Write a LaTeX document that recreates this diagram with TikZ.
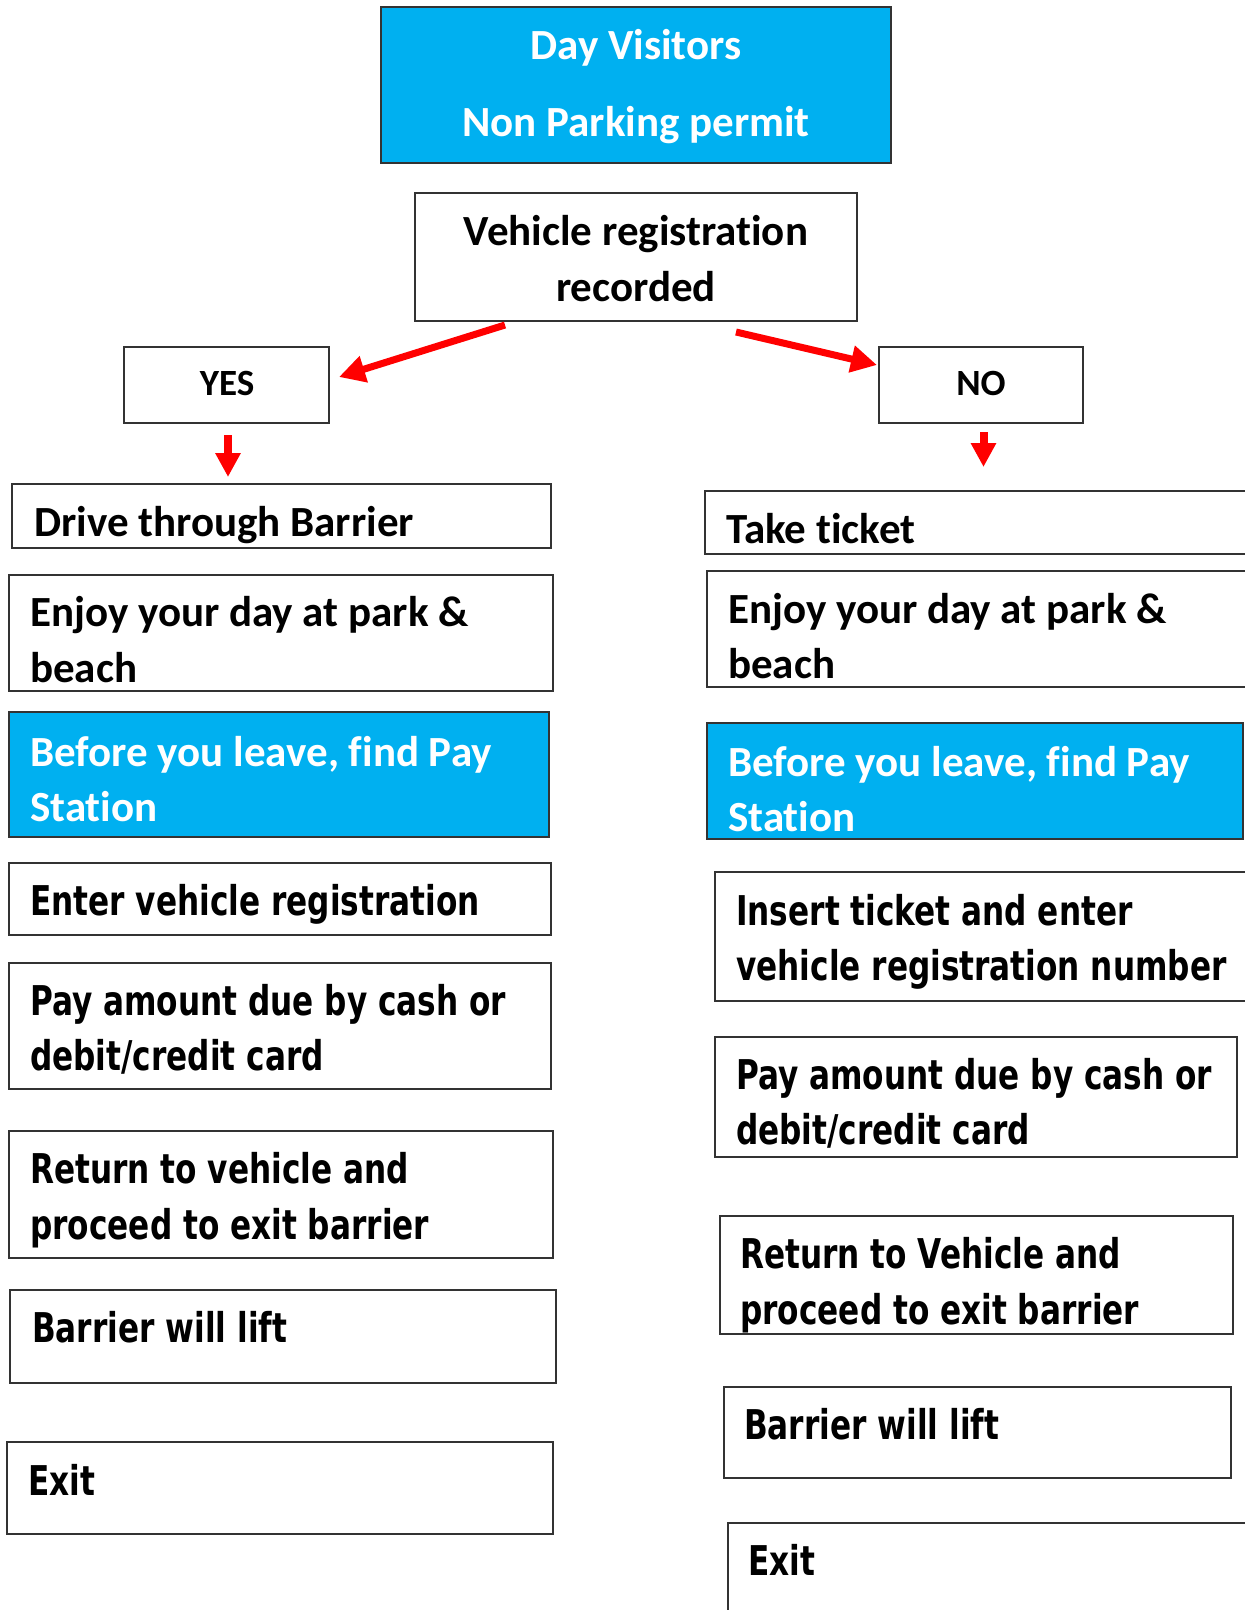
\documentclass[tikz,border=0pt]{standalone}
\usepackage{fontspec}
\usetikzlibrary{arrows.meta}
\newfontfamily\calfam{Carlito}[Ligatures=NoCommon]
\newfontfamily\verfam{DejaVu Sans}[FakeStretch=0.76]
\definecolor{skyc}{HTML}{00B0F0}
\definecolor{redc}{HTML}{FF0000}
\newcommand\calbig{\calfam\bfseries\fontsize{43}{55.5}\selectfont}
\newcommand\calsmall{\calfam\bfseries\fontsize{37}{42}\selectfont}
\newcommand\verbig{\verfam\bfseries\fontsize{41}{55.5}\selectfont}
\newcommand\mkbox[6]{\node[#6, anchor=north west, minimum width=#4pt-#2pt, minimum height=#5pt-#3pt] (#1) at (#2,#3) {};}
\tikzset{
  box/.style={draw=black!80, line width=1.4pt, inner sep=0pt, outer sep=0pt, rectangle},
  bluebox/.style={box, fill=skyc},
  ctxt/.style={font=\calbig, inner sep=0pt, anchor=base west, align=left, text=black},
  vtxt/.style={font=\verbig, inner sep=0pt, anchor=base west, align=left, text=black},
  wtxt/.style={ctxt, text=white},
  redarrow/.style={draw=redc, line width=7pt, -{Triangle[length=26pt,width=26pt]}},
  downarrow/.style={draw=redc, line width=8pt, -{Triangle[length=24pt,width=24pt]}}
}
\begin{document}
\begin{tikzpicture}[x=1pt,y=-1pt]
\useasboundingbox (0,0) rectangle (1245,1610);
\clip (0,0) rectangle (1245,1610);
% header boxes
\mkbox{top}{381}{7}{891}{163}{bluebox}
\mkbox{veh}{415}{193}{857}{321}{box}
\mkbox{yes}{124}{347}{329}{423}{box}
\mkbox{no}{879}{347}{1083}{423}{box}
% left column
\mkbox{l1}{12}{484}{551}{548}{box}
\mkbox{l2}{9}{575}{553}{691}{box}
\mkbox{l3}{9}{712}{549}{837}{bluebox}
\mkbox{l4}{9}{863}{551}{935}{box}
\mkbox{l5}{9}{963}{551}{1089}{box}
\mkbox{l6}{9}{1131}{553}{1258}{box}
\mkbox{l7}{10}{1290}{556}{1383}{box}
\mkbox{l8}{7}{1442}{553}{1534}{box}
% right column
\mkbox{r1}{705}{491}{1262}{554}{box}
\mkbox{r2}{707}{571}{1262}{687}{box}
\mkbox{r3}{707}{723}{1243}{839}{bluebox}
\mkbox{r4}{715}{872}{1262}{1001}{box}
\mkbox{r5}{715}{1037}{1237}{1157}{box}
\mkbox{r6}{720}{1216}{1233}{1334}{box}
\mkbox{r7}{724}{1387}{1231}{1478}{box}
\mkbox{r8}{728}{1523}{1262}{1630}{box}
% texts (multi-line nodes are placed by the baseline of their last line)
\node[wtxt, anchor=base] (ttop1) at (636,59.5) {Day Visitors};
\node[wtxt, anchor=base] (ttop2) at (636,136.5) {Non Parking permit};
\node[ctxt, anchor=base, align=center] (tveh) at (636,301) {Vehicle registration\\recorded};
\node[ctxt, font=\calsmall, anchor=base] (tyes) at (227,395) {YES};
\node[ctxt, font=\calsmall, anchor=base] (tno) at (981,395) {NO};
\begin{scope}
\clip (l1.south west) rectangle (l1.north east);
\node[ctxt] (tl1) at (34,536) {Drive through Barrier};
\end{scope}
\node[ctxt] (tl2) at (30,682) {Enjoy your day at park \&\\beach};
\node[wtxt] (tl3) at (30,821.5) {Before you leave, find Pay\\Station};
\node[vtxt] (tl4) at (30,915.5) {Enter vehicle registration};
\node[vtxt] (tl5) at (30,1070.5) {Pay amount due by cash or\\debit/credit card};
\node[vtxt] (tl6) at (30,1239) {Return to vehicle and\\proceed to exit barrier};
\node[vtxt] (tl7) at (32,1342.5) {Barrier will lift};
\node[vtxt] (tl8) at (28,1495.5) {Exit};
\node[ctxt] (tr1) at (726,543) {Take ticket};
\node[ctxt] (tr2) at (728,678.5) {Enjoy your day at park \&\\beach};
\node[wtxt] (tr3) at (728,831.5) {Before you leave, find Pay\\Station};
\node[vtxt] (tr4) at (736,980.5) {Insert ticket and enter\\vehicle registration number};
\node[vtxt] (tr5) at (736,1144.5) {Pay amount due by cash or\\debit/credit card};
\begin{scope}
\clip (r6.south west) rectangle (r6.north east);
\node[vtxt] (tr6) at (740,1324) {Return to Vehicle and\\proceed to exit barrier};
\end{scope}
\node[vtxt] (tr7) at (744,1439) {Barrier will lift};
\node[vtxt] (tr8) at (748,1575.5) {Exit};
% arrows
\coordinate (aL1) at (505,325);
\coordinate (aL2) at (339,377);
\coordinate (aR1) at (736,332);
\coordinate (aR2) at (877,365);
\coordinate (dY1) at (228,435);
\coordinate (dY2) at (228,477);
\coordinate (dN1) at (983.5,432);
\coordinate (dN2) at (983.5,467);
\draw[redarrow] (aL1) -- (aL2);
\draw[redarrow] (aR1) -- (aR2);
\draw[downarrow] (dY1) -- (dY2);
\draw[downarrow] (dN1) -- (dN2);
\end{tikzpicture}
\end{document}
